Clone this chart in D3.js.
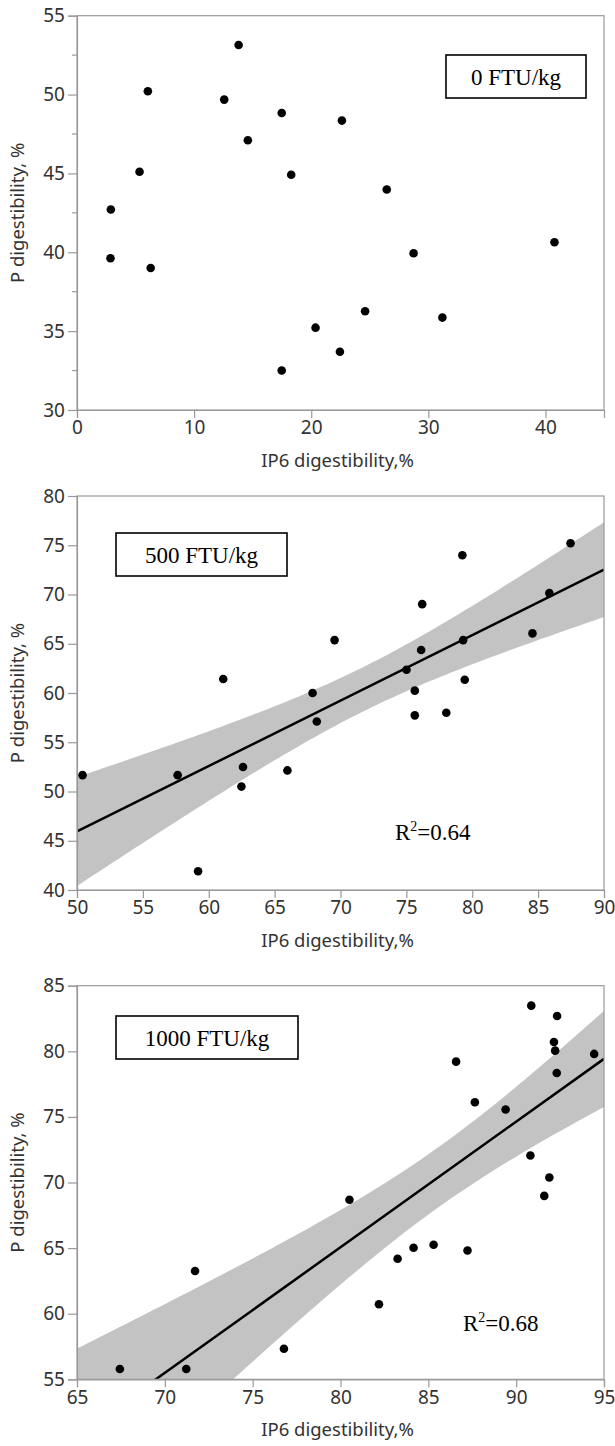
<!DOCTYPE html>
<html>
<head>
<meta charset="utf-8">
<script src="https://cdn.jsdelivr.net/npm/d3@7"></script>
<style>
  body { margin: 0; background: #fff; }
  svg { display: block; }
</style>
</head>
<body>
<svg></svg>
<script>
const width = 615;
const height = 1446;

// data
const ip6_0 = [13.8, 6.05, 12.57, 17.48, 22.62, 14.59, 5.34, 18.29, 26.45, 2.89, 2.86, 6.29, 28.74, 40.77, 24.6, 31.2, 20.37, 22.45, 17.48];
const p_0 = [53.14, 50.21, 49.68, 48.83, 48.35, 47.10, 45.11, 44.92, 43.98, 42.71, 39.62, 39.0, 39.94, 40.64, 36.26, 35.86, 35.22, 33.69, 32.5];

const ip6_500 = [87.46, 79.25, 76.2, 85.85, 69.55, 84.57, 79.31, 76.12, 75.01, 61.1, 79.43, 67.88, 75.64, 75.64, 78.03, 68.2, 62.6, 65.97, 50.42, 57.64, 62.48, 59.19];
const p_500 = [75.2, 73.99, 69.02, 70.14, 65.37, 66.05, 65.37, 64.36, 62.36, 61.42, 61.35, 60.0, 60.24, 57.73, 58.0, 57.11, 52.48, 52.14, 51.66, 51.66, 50.5, 41.9];

const ip6_1000 = [90.86, 92.33, 92.15, 92.22, 94.44, 86.58, 92.31, 87.65, 89.4, 90.81, 91.89, 91.6, 80.51, 85.3, 84.16, 87.23, 83.25, 71.72, 82.19, 76.78, 67.44, 71.22];
const p_1000 = [83.48, 82.69, 80.71, 80.05, 79.8, 79.21, 78.35, 76.12, 75.56, 72.06, 70.38, 68.98, 68.68, 65.25, 65.03, 64.82, 64.19, 63.25, 60.72, 57.33, 55.78, 55.78];

const doseLabels = ["0 FTU/kg", "500 FTU/kg", "1000 FTU/kg"];
const r2Labels = [null, "0.64", "0.68"];

const xTicks0 = [0, 10, 20, 30, 40];
const yTicks0 = [30, 35, 40, 45, 50, 55];
const xTicks500 = [50, 55, 60, 65, 70, 75, 80, 85, 90];
const yTicks500 = [40, 45, 50, 55, 60, 65, 70, 75, 80];
const xTicks1000 = [65, 70, 75, 80, 85, 90, 95];
const yTicks1000 = [55, 60, 65, 70, 75, 80, 85];

const xTitle = "IP6 digestibility,%";
const yTitle = "P digestibility, %";

// layout of the three panels
const left = 77, right = 604;
const panels = [
  { xs: ip6_0, ys: p_0, xDom: [0, 45], yDom: [30, 55], xTicks: xTicks0, yTicks: yTicks0, minor: true,
    top: 15.7, bottom: 410, box: [446, 55, 140, 43], fit: false },
  { xs: ip6_500, ys: p_500, xDom: [50, 90], yDom: [40, 80], xTicks: xTicks500, yTicks: yTicks500, minor: false,
    top: 496, bottom: 890, box: [116, 533, 171, 43], fit: true, r2: [395, 840] },
  { xs: ip6_1000, ys: p_1000, xDom: [65, 95], yDom: [55, 85], xTicks: xTicks1000, yTicks: yTicks1000, minor: false,
    top: 985.7, bottom: 1379.3, box: [116, 1016, 182, 43], fit: true, r2: [463, 1331] }
];

const svg = d3.select("svg")
  .attr("width", width)
  .attr("height", height);

const sans = "'Noto Sans', 'Open Sans', sans-serif";
const serif = "'Liberation Serif', 'Times New Roman', serif";
const frameColor = "#9a9a9a";
const textColor = "#333";

// least squares fit with 95% confidence band of the mean
function fitLine(xs, ys) {
  const n = xs.length;
  const mx = d3.mean(xs), my = d3.mean(ys);
  let sxx = 0, sxy = 0;
  xs.forEach((x, i) => { sxx += (x - mx) ** 2; sxy += (x - mx) * (ys[i] - my); });
  const b = sxy / sxx;
  const a = my - b * mx;
  let sse = 0;
  xs.forEach((x, i) => { sse += (ys[i] - (a + b * x)) ** 2; });
  const s = Math.sqrt(sse / (n - 2));
  const t = 2.086; // df = 20
  return { a, b, ci: x => t * s * Math.sqrt(1 / n + (x - mx) ** 2 / sxx) };
}

panels.forEach((p, k) => {
  const x = d3.scaleLinear().domain(p.xDom).range([left, right]);
  const y = d3.scaleLinear().domain(p.yDom).range([p.bottom, p.top]);
  const g = svg.append("g");

  const clipId = "clip" + k;
  g.append("clipPath").attr("id", clipId)
    .append("rect")
    .attr("x", left).attr("y", p.top)
    .attr("width", right - left).attr("height", p.bottom - p.top);

  if (p.fit) {
    const f = fitLine(p.xs, p.ys);
    const grid = d3.range(0, 101).map(i => p.xDom[0] + (p.xDom[1] - p.xDom[0]) * i / 100);
    const area = d3.area()
      .x(d => x(d))
      .y0(d => y(f.a + f.b * d - f.ci(d)))
      .y1(d => y(f.a + f.b * d + f.ci(d)));
    g.append("path")
      .datum(grid)
      .attr("clip-path", `url(#${clipId})`)
      .attr("fill", "#c3c3c3")
      .attr("d", area);
    g.append("line")
      .attr("clip-path", `url(#${clipId})`)
      .attr("x1", x(p.xDom[0])).attr("y1", y(f.a + f.b * p.xDom[0]))
      .attr("x2", x(p.xDom[1])).attr("y2", y(f.a + f.b * p.xDom[1]))
      .attr("stroke", "#000")
      .attr("stroke-width", 2.5);
  }

  // frame (top and right)
  g.append("rect")
    .attr("x", left).attr("y", p.top)
    .attr("width", right - left).attr("height", p.bottom - p.top)
    .attr("fill", "none")
    .attr("stroke", frameColor)
    .attr("stroke-width", 1.2);

  // axes
  const xAxis = g.append("g")
    .attr("transform", `translate(0,${p.bottom})`)
    .call(d3.axisBottom(x).tickValues(p.xTicks).tickSize(8).tickPadding(3).tickFormat(d3.format("d")));
  const yAxis = g.append("g")
    .attr("transform", `translate(${left},0)`)
    .call(d3.axisLeft(y).tickValues(p.yTicks).tickSize(9).tickPadding(3).tickFormat(d3.format("d")));

  [xAxis, yAxis].forEach(ax => {
    ax.select(".domain").attr("stroke", frameColor).attr("stroke-width", 1.2);
    ax.selectAll(".tick line").attr("stroke", frameColor).attr("stroke-width", 1.2);
    ax.selectAll(".tick text")
      .attr("fill", textColor)
      .style("font-family", sans)
      .style("font-size", "19px");
  });

  if (p.minor) {
    const minorTicks = p.yTicks.slice(0, -1).map(v => v + 2.5);
    g.selectAll(".minor")
      .data(minorTicks)
      .enter().append("line")
      .attr("x1", left - 5).attr("x2", left)
      .attr("y1", d => y(d)).attr("y2", d => y(d))
      .attr("stroke", frameColor)
      .attr("stroke-width", 1.2);
  }

  // axis titles
  g.append("text")
    .attr("x", (left + right) / 2 - 3)
    .attr("y", p.bottom + 57)
    .attr("text-anchor", "middle")
    .attr("fill", textColor)
    .style("font-family", sans)
    .style("font-size", "18.5px")
    .text(xTitle);

  g.append("text")
    .attr("transform", `translate(24,${(p.top + p.bottom) / 2}) rotate(-90)`)
    .attr("text-anchor", "middle")
    .attr("fill", textColor)
    .style("font-family", sans)
    .style("font-size", "18.5px")
    .text(yTitle);

  // points
  g.selectAll(".dot")
    .data(p.xs.map((v, i) => [v, p.ys[i]]))
    .enter().append("circle")
    .attr("cx", d => x(d[0]))
    .attr("cy", d => y(d[1]))
    .attr("r", 4.3)
    .attr("fill", "#000");

  // dose label box
  const [bx, by, bw, bh] = p.box;
  g.append("rect")
    .attr("x", bx).attr("y", by)
    .attr("width", bw).attr("height", bh)
    .attr("fill", "#fff")
    .attr("stroke", "#000")
    .attr("stroke-width", 1.6);
  g.append("text")
    .attr("x", bx + bw / 2)
    .attr("y", by + bh / 2 + 8)
    .attr("text-anchor", "middle")
    .attr("fill", "#000")
    .style("font-family", serif)
    .style("font-size", "23px")
    .text(doseLabels[k]);

  if (p.r2) {
    const t = g.append("text")
      .attr("x", p.r2[0])
      .attr("y", p.r2[1])
      .attr("fill", "#000")
      .style("font-family", serif)
      .style("font-size", "23px");
    t.append("tspan").text("R");
    t.append("tspan").attr("dy", -9).style("font-size", "14px").text("2");
    t.append("tspan").attr("dy", 9).text("=" + r2Labels[k]);
  }
});
</script>
</body>
</html>
